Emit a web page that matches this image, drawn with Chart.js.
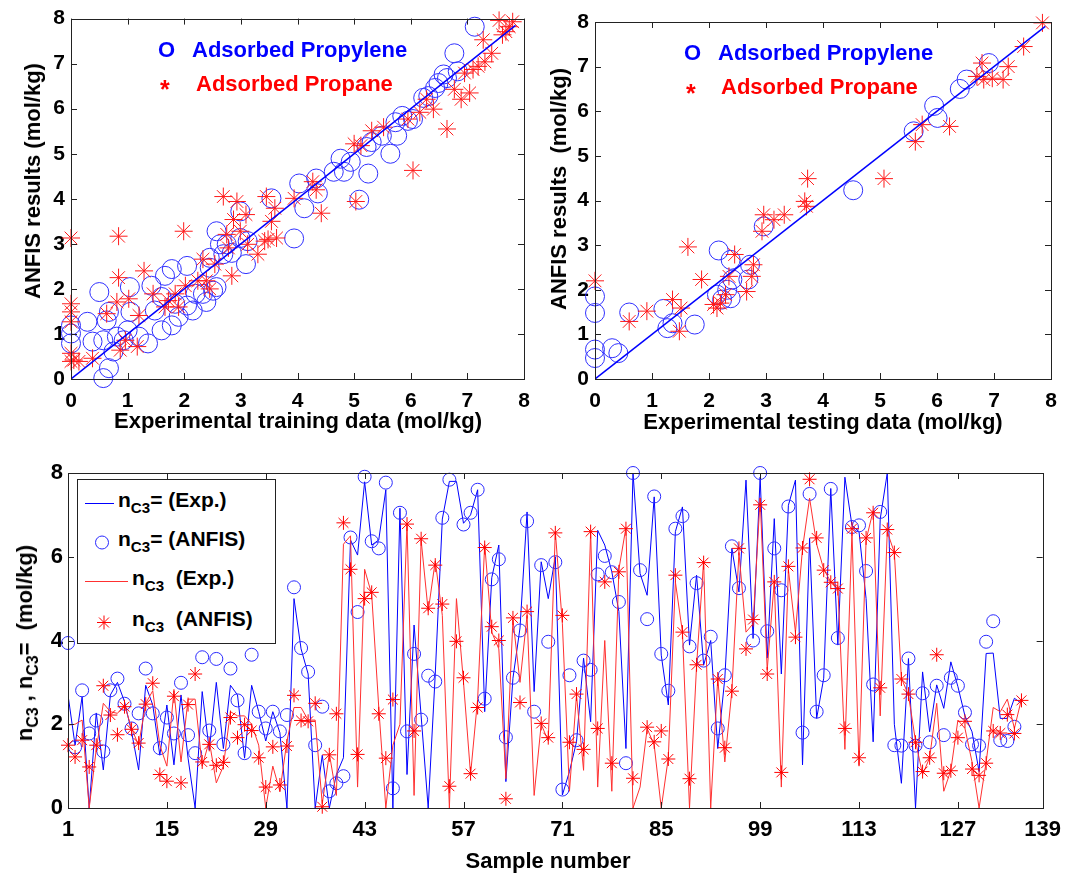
<!DOCTYPE html>
<html>
<head>
<meta charset="utf-8">
<script src="https://cdn.jsdelivr.net/npm/chart.js@4.4.1/dist/chart.umd.min.js"></script>
<style>
  body { margin: 0; background: #fff; width: 1070px; height: 875px; position: relative; overflow: hidden;
         font-family: "Liberation Sans", Arial, sans-serif; font-weight: bold; }
  canvas { position: absolute; }
  .t { position: absolute; white-space: nowrap; font-weight: bold; }
  .rot { position: absolute; white-space: nowrap; transform: translate(-50%, -50%) rotate(-90deg); font-size: 22px; }
  .ctr { position: absolute; white-space: nowrap; transform: translateX(-50%); font-size: 22px; }
  sub { font-size: 72%; vertical-align: -0.38em; line-height: 0; }
  #legend { position: absolute; left: 77px; top: 479px; width: 199px; height: 165px; background: #fff;
            border: 1px solid #222; box-sizing: border-box; font-size: 21px; }
  #legend .row { position: absolute; height: 30px; }
</style>
</head>
<body>
<canvas id="trainChart" style="left:0;top:0" width="540" height="440"></canvas>
<canvas id="testChart" style="left:530px;top:0" width="540" height="440"></canvas>
<canvas id="sampleChart" style="left:0;top:440px" width="1070" height="435"></canvas>

<div class="t" style="left:158px;top:37px;font-size:22px;color:#0000ff">O</div>
<div class="t" style="left:192px;top:37px;font-size:22px;color:#0000ff">Adsorbed Propylene</div>
<div class="t" style="left:160px;top:75px;font-size:25px;color:#ff0000">*</div>
<div class="t" style="left:196px;top:71px;font-size:22px;color:#ff0000">Adsorbed Propane</div>

<div class="t" style="left:684px;top:40px;font-size:22px;color:#0000ff">O</div>
<div class="t" style="left:718px;top:40px;font-size:22px;color:#0000ff">Adsorbed Propylene</div>
<div class="t" style="left:686px;top:79px;font-size:25px;color:#ff0000">*</div>
<div class="t" style="left:721px;top:74px;font-size:22px;color:#ff0000">Adsorbed Propane</div>

<div class="rot" style="left:33px;top:181px">ANFIS results (mol/kg)</div>
<div class="ctr" style="left:298px;top:408px">Experimental training data (mol/kg)</div>
<div class="rot" style="left:559px;top:189px">ANFIS results&nbsp; (mol/kg)</div>
<div class="ctr" style="left:823px;top:409px">Experimental testing data (mol/kg)</div>
<div class="rot" style="left:25px;top:643px">n<sub>C3</sub> , n<sub>C3</sub>=&nbsp;&nbsp;(mol/kg)</div>
<div class="ctr" style="left:548px;top:848px">Sample number</div>

<div id="legend">
  <div class="row" style="left:7px;top:8px">
    <svg width="30" height="30" style="position:absolute;left:0;top:0"><line x1="0" y1="15.5" x2="29" y2="15.5" stroke="#0000ff" stroke-width="1"/></svg>
    <span class="t" style="left:33px;top:0">n<sub>C3</sub>= (Exp.)</span>
  </div>
  <div class="row" style="left:7px;top:47px">
    <svg width="30" height="30" style="position:absolute;left:0;top:0"><circle cx="17" cy="15.5" r="6.5" fill="none" stroke="#2a2aff" stroke-width="1"/></svg>
    <span class="t" style="left:33px;top:0">n<sub>C3</sub>= (ANFIS)</span>
  </div>
  <div class="row" style="left:7px;top:86px">
    <svg width="44" height="30" style="position:absolute;left:0;top:0"><line x1="0" y1="15.5" x2="43" y2="15.5" stroke="#ff3030" stroke-width="1"/></svg>
    <span class="t" style="left:47px;top:0">n<sub>C3</sub>&nbsp; (Exp.)</span>
  </div>
  <div class="row" style="left:7px;top:127px">
    <svg width="44" height="30" style="position:absolute;left:0;top:0">
      <g stroke="#ff0000" stroke-width="1"><line x1="19" y1="8.5" x2="19" y2="22.5"/><line x1="12" y1="15.5" x2="26" y2="15.5"/>
      <line x1="14" y1="10.5" x2="24" y2="20.5"/><line x1="24" y1="10.5" x2="14" y2="20.5"/></g></svg>
    <span class="t" style="left:47px;top:0">n<sub>C3</sub>&nbsp; (ANFIS)</span>
  </div>
</div>

<script>
// training data: adsorbed propylene (circles)
const trainPropyleneX = [0,0,0,0.29,0.5,0.38,0.57,0.67,0.57,0.63,0.67,0.75,0.81,0.93,1.04,1.05,1.0,1.2,1.36,1.42,1.48,1.6,1.6,1.66,1.78,1.78,1.84,1.9,2.05,2.05,2.15,2.2,2.33,2.39,2.45,2.45,2.51,2.57,2.57,2.63,2.69,2.75,2.84,2.99,2.99,3.09,3.12,3.54,3.94,4.03,4.12,4.33,4.36,4.64,4.76,4.82,4.94,5.09,5.22,5.25,5.31,5.49,5.64,5.73,5.76,5.85,5.95,6.04,6.22,6.31,6.43,6.49,6.58,6.64,6.77,6.83,7.13];
const trainPropyleneY = [1.01,0.79,1.19,1.27,1.93,0.83,0.02,0.24,0.86,1.3,1.49,0.61,0.94,0.86,2.04,1.49,1.08,0.94,0.79,2.07,1.52,1.08,1.82,2.29,2.44,1.19,1.67,1.38,2.51,1.63,1.52,1.89,1.89,1.71,2.69,2.47,1.96,3.28,2.04,2.99,2.77,2.99,2.8,3.13,3.72,2.55,3.06,4.01,3.12,4.34,3.79,4.45,4.12,4.6,4.89,4.6,4.82,3.98,5.15,4.56,5.26,5.4,5.0,5.7,5.4,5.84,5.73,5.77,6.24,6.28,6.46,6.57,6.76,6.68,7.23,6.83,7.82];
// training data: adsorbed propane (stars)
const trainPropaneX = [0,0,0,0,0,0,0.05,0.14,0.38,0.63,0.84,0.84,0.81,0.87,0.96,1.02,1.17,1.2,1.29,1.45,1.66,1.72,1.84,1.9,1.99,2.02,2.24,2.33,2.39,2.45,2.54,2.69,2.75,2.78,2.84,2.87,2.93,2.99,3.09,3.12,3.3,3.42,3.48,3.45,3.54,3.6,3.63,3.94,4.27,4.33,4.42,5.0,5.03,5.12,5.31,5.52,5.95,6.04,6.16,6.28,6.4,6.64,6.77,6.89,6.95,7.04,7.1,7.19,7.28,7.31,7.43,7.56,7.62,7.68,7.74,7.8];
const trainPropaneY = [3.13,0.57,0.39,1.49,1.67,1.27,0.42,0.39,0.46,1.45,3.17,2.25,1.71,0.64,0.86,1.78,0.72,1.41,2.4,1.89,1.6,1.74,1.89,1.6,3.28,2.07,2.18,2.66,2.18,2.0,2.55,4.05,3.21,2.91,2.29,3.54,3.94,3.28,3.65,2.99,2.77,3.06,3.1,4.05,3.5,3.79,3.13,4.01,4.38,4.2,3.68,5.22,3.94,5.18,5.51,5.59,5.77,4.63,5.92,6.21,5.99,5.55,6.43,6.21,6.79,6.35,6.87,6.94,7.53,7.04,7.23,7.96,7.64,7.71,7.82,7.93];
const trainLineX = [0, 7.85];
const trainLineY = [0, 7.85];

// testing data
const testPropyleneX = [0,0,0,0,0.3,0.41,0.6,1.2,1.27,1.36,1.75,2.17,2.14,2.23,2.32,2.38,2.38,2.41,2.69,2.72,2.96,4.53,5.59,5.95,6.01,6.4,6.52,6.91];
const testPropyleneY = [1.85,1.48,0.66,0.47,0.69,0.58,1.49,1.57,1.14,1.25,1.22,2.88,1.89,1.78,2.0,1.81,2.67,2.23,2.23,2.56,3.42,4.23,5.55,6.12,5.85,6.5,6.71,7.08];
const testPropaneX = [0,0.6,0.91,1.36,1.48,1.51,1.63,1.87,2.08,2.14,2.2,2.29,2.35,2.45,2.66,2.75,2.78,2.93,2.96,3.14,3.32,3.68,3.73,3.71,5.07,5.62,5.74,6.22,6.7,6.79,6.82,6.97,7.16,7.25,7.52,7.85];
const testPropaneY = [2.2,1.29,1.52,1.78,1.07,1.59,2.96,2.23,1.67,1.59,1.7,1.89,2.3,2.79,1.96,2.3,2.56,3.31,3.68,3.57,3.68,3.98,4.49,3.87,4.49,5.32,5.7,5.66,6.78,7.08,6.71,6.74,6.71,7.0,7.45,7.98];
const testLineX = [0, 7.9];
const testLineY = [0, 7.9];

// per-sample comparison (samples 1..136)
const propyleneExp = [2.7,1.5,2.66,0,2.27,0.91,2.7,3.0,2.54,1.82,0.91,2.93,2.46,1.26,2.46,1.03,2.7,1.19,0,2.78,
  1.38,3.0,1.42,2.93,2.7,1.19,2.93,2.3,1.6,2.3,1.8,0,5.0,3.8,3.2,0,1.26,0,0.8,1.2,
  6.4,6.04,7.79,6.28,6.4,7.6,0,7.16,0.8,4.37,2.2,0,3.2,6.9,7.8,7.8,6.8,7.0,7.6,2.3,
  5.5,6.28,0.63,3.1,4.3,7.07,2.78,5.88,5.0,6.0,0.31,0.87,1.58,3.58,2.06,6.63,6.28,5.64,4.69,1.42,
  8.0,5.6,5.08,7.43,3.65,2.46,6.6,7.19,3.89,5.56,3.41,4.0,1.42,3.1,6.2,5.16,7.83,4.05,7.9,3.58,
  6.91,3.2,7.23,7.83,1.03,6.44,2.14,3.1,7.63,3.89,7.9,6.75,6.6,5.0,1.58,6.9,8.0,2.0,0.59,3.57,
  0,3.25,1.82,2.94,2.38,3.49,2.9,2.2,1.82,0.87,3.69,3.7,2.14,2.14,2.62,2.5];
const propyleneAnfis = [3.94,1.45,2.81,1.78,2.09,1.35,2.81,3.09,2.49,1.9,2.26,3.33,2.26,1.43,2.16,1.78,2.99,1.74,1.31,3.6,
  1.85,3.56,1.52,3.33,2.57,1.31,3.66,2.3,1.9,2.3,1.83,2.22,5.27,3.82,3.25,1.5,2.42,0.4,0.59,0.76,
  6.46,4.68,7.91,6.37,6.2,7.77,0.47,7.05,1.83,3.68,2.11,3.16,3.02,6.93,7.84,null,6.77,7.05,7.6,2.61,
  5.46,5.94,1.69,3.11,4.24,6.85,2.3,5.8,3.97,5.87,0.44,3.17,1.62,3.52,3.3,5.58,6.02,5.63,4.92,1.07,
  8.0,5.68,4.51,7.44,3.68,2.8,6.67,6.97,3.86,5.37,3.52,4.09,1.9,3.17,6.25,5.25,null,4.0,8.0,4.22,
  6.2,5.2,7.2,null,1.8,7.5,2.3,3.17,7.62,4.06,null,6.71,6.75,5.66,2.95,7.07,null,1.5,1.49,3.57,
  1.49,2.74,1.57,2.92,1.74,3.11,2.92,2.28,1.52,1.49,3.97,4.46,1.62,1.6,1.94,null];
const propaneExp = [1.98,2.0,2.1,0,1.4,2.5,2.3,2.26,2.46,1.9,1.5,2.5,2.8,1.5,1.0,2.8,1.1,2.6,2.6,1.0,
  1.6,0.6,1.0,2.3,2.2,2.2,2.0,1.5,0,1.0,0.4,1.6,2.4,2.4,2.1,2.1,0.1,1.3,0.3,6.3,
  6.5,0.5,5.7,5.1,2.4,0,1.5,2.0,6.8,0.3,6.4,4.7,5.9,4.6,0,5.0,3.0,0.8,2.6,6.3,
  4.2,3.8,0.7,4.5,3.0,4.6,0.3,2.0,1.6,6.6,4.4,0.4,2.7,0.9,6.6,0.5,4.0,0.4,5.7,6.7,
  0,0.5,1.9,1.5,0,1.2,5.4,4.2,0,3.4,5.9,0,3.1,1.1,2.8,6.1,4.2,4.4,7.4,3.3,
  5.4,0.5,5.7,4.2,6.2,7.4,6.3,5.7,5.4,5.3,1.4,6.6,1.0,6.4,7.1,2.2,6.6,6.1,3.1,2.7,
  1.6,0.8,1.2,2.5,0.4,0.9,2.1,1.9,1.1,0,1.1,2.4,2.3,2.6,1.9,2.6];
const propaneAnfis = [1.5,1.22,1.62,0.98,1.5,2.92,2.22,1.75,2.42,1.88,1.55,2.48,2.98,0.8,0.64,2.67,0.6,2.47,3.2,1.1,
  1.52,1.02,1.09,2.16,1.68,1.99,1.85,1.2,0.5,1.46,0.55,1.48,2.69,2.09,2.07,2.5,0.03,1.27,2.25,6.81,
  5.7,1.28,5.0,5.15,2.25,1.19,2.59,null,6.78,1.84,6.43,4.77,5.8,4.87,0.52,3.98,3.11,0.82,2.4,6.22,
  4.33,4.0,0.22,4.54,2.52,4.69,null,2.02,1.68,6.57,4.6,1.57,2.72,1.4,6.6,1.9,5.4,1.07,5.64,6.67,
  0.71,null,1.93,1.58,1.84,1.17,5.56,4.2,0.7,3.42,5.86,null,3.08,1.44,2.79,6.2,3.8,4.5,7.24,3.2,
  5.4,0.85,5.77,4.08,6.21,7.85,6.45,5.68,5.39,5.24,1.9,6.67,1.2,6.45,7.05,2.87,6.65,6.1,3.08,2.72,
  1.57,0.87,1.2,3.66,0.83,0.89,1.68,2.07,0.93,0.78,1.07,1.84,1.79,2.23,1.78,2.57];
const sampleNo = propaneExp.map((v, i) => i + 1);
const sampleTicks = [1, 15, 29, 43, 57, 71, 85, 99, 113, 127, 139];

const FONT = "'Liberation Sans', Arial, sans-serif";

// MATLAB style box with inward ticks on all four sides
const boxTicks = {
  id: "boxTicks",
  afterDatasetsDraw(chart, args, opts) {
    const { ctx, chartArea: a, scales } = chart;
    const len = opts.len || 6;
    ctx.save();
    ctx.strokeStyle = "#222";
    ctx.lineWidth = 1;
    ctx.strokeRect(Math.round(a.left) + 0.5, Math.round(a.top) + 0.5,
      Math.round(a.right - a.left), Math.round(a.bottom - a.top));
    ctx.beginPath();
    scales.x.ticks.forEach((t) => {
      const px = Math.round(scales.x.getPixelForValue(t.value)) + 0.5;
      ctx.moveTo(px, a.bottom); ctx.lineTo(px, a.bottom - len);
      ctx.moveTo(px, a.top); ctx.lineTo(px, a.top + len);
    });
    scales.y.ticks.forEach((t) => {
      const py = Math.round(scales.y.getPixelForValue(t.value)) + 0.5;
      ctx.moveTo(a.left, py); ctx.lineTo(a.left + len, py);
      ctx.moveTo(a.right, py); ctx.lineTo(a.right - len, py);
    });
    ctx.stroke();
    ctx.restore();
  },
};

function toPoints(xs, ys) {
  return xs.map((x, i) => ({ x: x, y: ys[i] }));
}

function scatterChart(id, area, pX, pY, qX, qY, lX, lY) {
  return new Chart(document.getElementById(id), {
    type: "scatter",
    data: {
      datasets: [
        { data: toPoints(qX, qY), pointStyle: "star", pointRadius: 9, borderColor: "#ff1a1a",
          borderWidth: 1, backgroundColor: "#ff1a1a", clip: false, order: 1 },
        { data: toPoints(pX, pY), pointStyle: "circle", pointRadius: 9.5, borderColor: "#3030ff",
          borderWidth: 1, backgroundColor: "rgba(0,0,0,0)", clip: false, order: 2 },
        { type: "line", data: toPoints(lX, lY), borderColor: "#0000ff", borderWidth: 1.5,
          pointRadius: 0, order: 0 },
      ],
    },
    options: {
      responsive: false,
      animation: false,
      events: [],
      layout: { padding: { left: 0, top: area.top, right: area.right, bottom: 0 } },
      plugins: { legend: { display: false }, tooltip: { enabled: false }, boxTicks: { len: 6 } },
      scales: {
        x: {
          type: "linear", min: 0, max: 8,
          grid: { display: false, drawTicks: false }, border: { display: false },
          ticks: { stepSize: 1, color: "#000", padding: 10, font: { family: FONT, size: 21, weight: "bold" } },
          afterFit: (s) => { s.height = area.xh; },
        },
        y: {
          type: "linear", min: 0, max: 8,
          grid: { display: false, drawTicks: false }, border: { display: false },
          ticks: { stepSize: 1, color: "#000", padding: 6, font: { family: FONT, size: 21, weight: "bold" } },
          afterFit: (s) => { s.width = area.yw; },
        },
      },
    },
    plugins: [boxTicks],
  });
}

scatterChart("trainChart", { top: 15, right: 16, xh: 61, yw: 71 },
  trainPropyleneX, trainPropyleneY, trainPropaneX, trainPropaneY, trainLineX, trainLineY);
scatterChart("testChart", { top: 22, right: 19, xh: 61, yw: 65 },
  testPropyleneX, testPropyleneY, testPropaneX, testPropaneY, testLineX, testLineY);

new Chart(document.getElementById("sampleChart"), {
  type: "line",
  data: {
    datasets: [
      { data: toPoints(sampleNo, propyleneExp), borderColor: "#0000ff", borderWidth: 1,
        pointRadius: 0, tension: 0, order: 4 },
      { data: toPoints(sampleNo, propyleneAnfis), showLine: false, pointStyle: "circle", pointRadius: 6.5,
        borderColor: "#2a2aff", borderWidth: 1, backgroundColor: "rgba(0,0,0,0)", clip: false, order: 3 },
      { data: toPoints(sampleNo, propaneExp), borderColor: "#ff3030", borderWidth: 1,
        pointRadius: 0, tension: 0, order: 2 },
      { data: toPoints(sampleNo, propaneAnfis), showLine: false, pointStyle: "star", pointRadius: 7,
        borderColor: "#ff0000", borderWidth: 1, backgroundColor: "#ff0000", clip: false, order: 1 },
    ],
  },
  options: {
    responsive: false,
    animation: false,
    events: [],
    spanGaps: false,
    layout: { padding: { left: 0, top: 33, right: 22, bottom: 0 } },
    plugins: { legend: { display: false }, tooltip: { enabled: false }, boxTicks: { len: 6 } },
    scales: {
      x: {
        type: "linear", min: 1, max: 139,
        grid: { display: false, drawTicks: false }, border: { display: false },
        afterBuildTicks: (s) => { s.ticks = sampleTicks.map((v) => ({ value: v })); },
        ticks: { color: "#000", padding: 9, autoSkip: false, maxRotation: 0,
          font: { family: FONT, size: 22, weight: "bold" } },
        afterFit: (s) => { s.height = 67; },
      },
      y: {
        type: "linear", min: 0, max: 8,
        grid: { display: false, drawTicks: false }, border: { display: false },
        ticks: { stepSize: 2, color: "#000", padding: 5, font: { family: FONT, size: 22, weight: "bold" } },
        afterFit: (s) => { s.width = 68; },
      },
    },
  },
  plugins: [boxTicks],
});
</script>
</body>
</html>
